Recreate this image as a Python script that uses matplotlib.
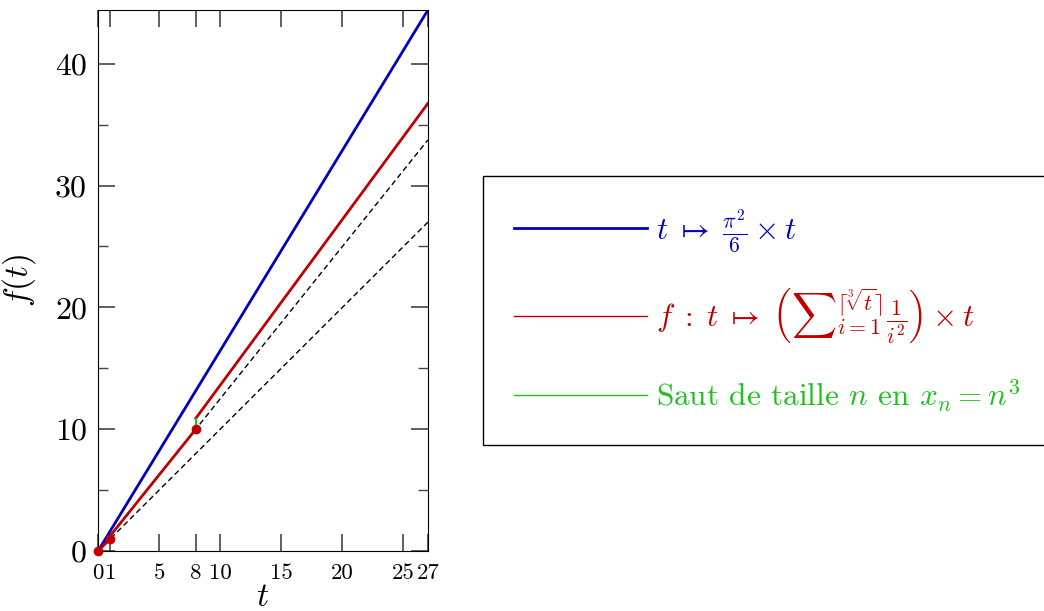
"""Piecewise linear f(t) vs pi^2/6 * t (matplotlib, no GUI backend)."""

import matplotlib
matplotlib.use("Agg")
import matplotlib.pyplot as plt  # noqa: E402
from matplotlib.lines import Line2D  # noqa: E402

plt.rcParams["font.family"] = "serif"
plt.rcParams["font.serif"] = ["cmr10"]
plt.rcParams["mathtext.fontset"] = "cm"
plt.rcParams["axes.formatter.use_mathtext"] = True

# values
blue_t = [0, 27]
blue_f = [0, 44.41]

# red: one piece per interval (n-1)^3 < t <= n^3
red_pieces = [
    ([0, 1], [0, 1.0]),
    ([1, 8], [1.25, 10.0]),
    ([8, 27], [10.89, 36.75]),
]
# jumps at x_n = n^3 (green)
jump_t = [1, 8]
jump_lo = [1.0, 10.0]
jump_hi = [1.25, 10.89]
# dots at the left end of each jump
dot_t = [0, 1, 8]
dot_f = [0, 1.0, 10.0]
# dashed guide lines
dash_lines = [([0, 27], [0, 27.0]), ([0, 27], [0, 33.75])]

x_ticks = [0, 1, 5, 8, 10, 15, 20, 25, 27]
y_ticks = [0, 10, 20, 30, 40]
y_minor = [5, 15, 25, 35]

BLUE = "#0000c0"
RED = "#c00000"
GREEN = "#20c020"

fig = plt.figure(figsize=(10.44, 6.11), dpi=100)
ax = fig.add_axes([0.0939, 0.0982, 0.316, 0.8854])

for xs, ys in dash_lines:
    ax.plot(xs, ys, "--", color="black", lw=1.0, dashes=(4, 2.5))
ax.plot(blue_t, blue_f, color=BLUE, lw=2.0)
for xs, ys in red_pieces:
    ax.plot(xs, ys, color=RED, lw=2.0)
ax.vlines(jump_t, jump_lo, jump_hi, color=GREEN, lw=1.5)
ax.plot(dot_t, dot_f, "o", color=RED, ms=6, clip_on=False, zorder=5)

ax.set_xlim(0, 27)
ax.set_ylim(0, 44.41)
ax.set_xticks(x_ticks)
ax.set_xticklabels([str(v) for v in x_ticks], fontsize=16.5)
ax.set_yticks(y_ticks)
ax.set_yticks(y_minor, minor=True)
ax.set_yticklabels([str(v) for v in y_ticks], fontsize=23)
ax.tick_params(which="both", direction="in", top=True, right=True,
               color="#444444")
ax.tick_params(which="major", length=12, width=1.2)
ax.tick_params(which="minor", length=7, width=1.0)
ax.tick_params(axis="x", pad=9)
ax.tick_params(axis="y", pad=8)
ax.set_xlabel(r"$t$", fontsize=24, labelpad=0)
ax.set_ylabel(r"$f(t)$", fontsize=24, labelpad=12)

handles = [
    Line2D([], [], color=BLUE, lw=2.0),
    Line2D([], [], color=RED, lw=1.0),
    Line2D([], [], color=GREEN, lw=1.0),
]
labels = [
    r"$t \;\mapsto\; \frac{\pi^2}{6} \times t$",
    r"$f \;:\; t \;\mapsto\; \left({\sum}_{i=1}^{\lceil \sqrt[3]{t} \rceil}"
    r" \frac{1}{i^2}\right) \times t$",
    r"Saut de taille $n$ en $x_n = n^3$",
]
leg = fig.legend(handles, labels, loc="upper left",
                 bbox_to_anchor=(483 / 1044, 1 - 176 / 611),
                 borderaxespad=0,
                 fontsize=22.5, handlelength=4.25, handletextpad=0.3,
                 labelspacing=1.0, borderpad=1.0, fancybox=False,
                 edgecolor="black", framealpha=1)
leg.get_frame().set_linewidth(1.0)
for txt, c in zip(leg.get_texts(), [BLUE, RED, GREEN]):
    txt.set_color(c)

fig.savefig("out.png", dpi=100)
